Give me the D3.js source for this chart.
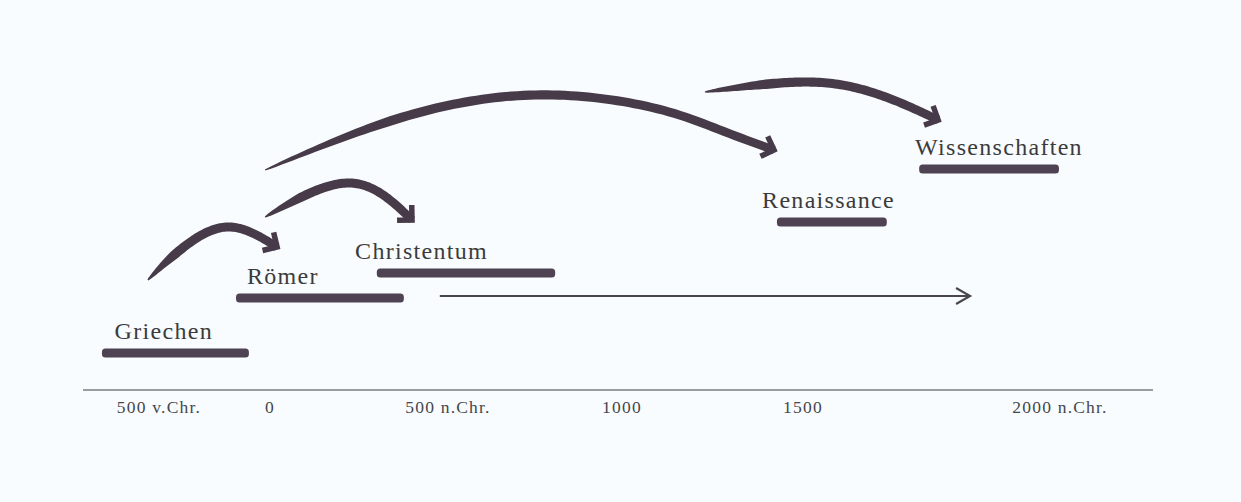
<!DOCTYPE html>
<html lang="de">
<head>
<meta charset="utf-8">
<title>Zeitleiste</title>
<script src="https://cdn.jsdelivr.net/npm/d3@7"></script>
<style>
  body { margin: 0; background: #f8fcfe; }
  svg { display: block; }
  .era { font-family: "Liberation Serif", "Times New Roman", serif; font-size: 24px; letter-spacing: 1.3px; fill: #3b3b3d; }
  .tick { font-family: "Liberation Serif", "Times New Roman", serif; font-size: 17.5px; letter-spacing: 1.2px; fill: #45464b; }
</style>
</head>
<body>
<script>
// axis ticks (years) and their labels
var tickYears = [-500, 0, 500, 1000, 1500, 2000];
var tickLabels = ["500 v.Chr.", "0", "500 n.Chr.", "1000", "1500", "2000 n.Chr."];

// eras: name, start/end year, height above the axis, where the label begins
var eras = ["Griechen", "Römer", "Christentum", "Renaissance", "Wissenschaften"];
var eraStart = [-757, -153, 300, 1428, 1726];
var eraEnd = [-95, 376, 808, 1663, 1998];
var eraLevel = [37, 92, 117, 168, 221];
var labelYear = [-700, -104, 239, 1387, 1718];

// curved arrows as [year, level] points
var arrows = [
  [[-550, 110], [-405, 140], [-194, 163], [20, 143]],
  [[-22, 173], [224, 207], [399, 170]],
  [[-22, 220], [365, 272], [744, 295], [1077, 283], [1271, 260], [1420, 240]],
  [[1229, 298], [1508, 308], [1650, 295], [1763, 270]]
];

// the thin straight arrow
var lineFrom = 477, lineTo = 1825, lineLevel = 94;

var w = 1241, h = 502;
var ink = "#473a49";

var x = d3.scaleLinear().domain(tickYears).range([159, 270, 448, 622, 803, 1060]);
var y = d3.scaleLinear().domain([0, 300]).range([390, 90]);

var svg = d3.select("body").append("svg")
  .attr("width", w)
  .attr("height", h);

svg.append("rect").attr("width", w).attr("height", h).attr("fill", "#f8fcfe");

// axis line
svg.append("line")
  .attr("x1", 83).attr("x2", 1153)
  .attr("y1", y(0)).attr("y2", y(0))
  .attr("stroke", "#7a7c82")
  .attr("stroke-width", 1.5);

svg.selectAll("text.tick")
  .data(tickYears)
  .enter()
  .append("text")
  .attr("class", "tick")
  .attr("x", function(d) { return x(d); })
  .attr("y", y(0) + 23)
  .attr("text-anchor", "middle")
  .text(function(d, i) { return tickLabels[i]; });

// era bars
svg.selectAll("rect.bar")
  .data(eras)
  .enter()
  .append("rect")
  .attr("class", "bar")
  .attr("x", function(d, i) { return x(eraStart[i]); })
  .attr("y", function(d, i) { return y(eraLevel[i]) - 4.5; })
  .attr("width", function(d, i) { return x(eraEnd[i]) - x(eraStart[i]); })
  .attr("height", 9)
  .attr("rx", 3.5)
  .attr("fill", "#4f4253");

svg.selectAll("text.era")
  .data(eras)
  .enter()
  .append("text")
  .attr("class", "era")
  .attr("x", function(d, i) { return x(labelYear[i]); })
  .attr("y", function(d, i) { return y(eraLevel[i]) - 14; })
  .text(function(d) { return d; });

// thin arrow
svg.append("line")
  .attr("x1", x(lineFrom)).attr("x2", x(lineTo))
  .attr("y1", y(lineLevel)).attr("y2", y(lineLevel))
  .attr("stroke", "#4a4650")
  .attr("stroke-width", 2);
svg.append("path")
  .attr("d", "M" + (x(lineTo) - 14) + "," + (y(lineLevel) - 8) +
             "L" + x(lineTo) + "," + y(lineLevel) +
             "L" + (x(lineTo) - 14) + "," + (y(lineLevel) + 8))
  .attr("fill", "none")
  .attr("stroke", "#4a4650")
  .attr("stroke-width", 2.2);

// brush-like curved arrows
var curve = d3.line()
  .x(function(p) { return x(p[0]); })
  .y(function(p) { return y(p[1]); })
  .curve(d3.curveNatural);

arrows.forEach(function(pts) {
  var guide = svg.append("path").attr("d", curve(pts)).attr("fill", "none");
  var node = guide.node();
  var len = node.getTotalLength();
  var n = 90, samples = [];
  for (var i = 0; i <= n; i++) {
    var p = node.getPointAtLength(len * i / n);
    samples.push([p.x, p.y]);
  }
  guide.remove();

  var left = [], right = [];
  samples.forEach(function(p, i) {
    var a = samples[Math.max(0, i - 1)], b = samples[Math.min(n, i + 1)];
    var dx = b[0] - a[0], dy = b[1] - a[1], dl = Math.hypot(dx, dy);
    var nx = -dy / dl, ny = dx / dl;
    var t = i / n;
    var half = 4.2 * Math.pow(Math.min(1, t / 0.25), 0.7) * (1 - 0.12 * t) + 0.6;
    left.push([p[0] + nx * half, p[1] + ny * half]);
    right.push([p[0] - nx * half, p[1] - ny * half]);
  });

  svg.append("path")
    .attr("d", d3.line()(left.concat(right.reverse())) + "Z")
    .attr("fill", ink);

  // hooked head
  var tip = samples[n], prev = samples[n - 6];
  var bx = prev[0] - tip[0], by = prev[1] - tip[1], bl = Math.hypot(bx, by);
  bx /= bl; by /= bl;
  var arm = 15, c = Math.cos(Math.PI / 4), s = Math.sin(Math.PI / 4);
  var a1 = [tip[0] + arm * (bx * c - by * s), tip[1] + arm * (bx * s + by * c)];
  var a2 = [tip[0] + arm * (bx * c + by * s), tip[1] + arm * (-bx * s + by * c)];
  svg.append("path")
    .attr("d", d3.line()([a1, tip, a2]))
    .attr("fill", "none")
    .attr("stroke", ink)
    .attr("stroke-width", 5.5)
    .attr("stroke-linejoin", "miter");
});
</script>
</body>
</html>
